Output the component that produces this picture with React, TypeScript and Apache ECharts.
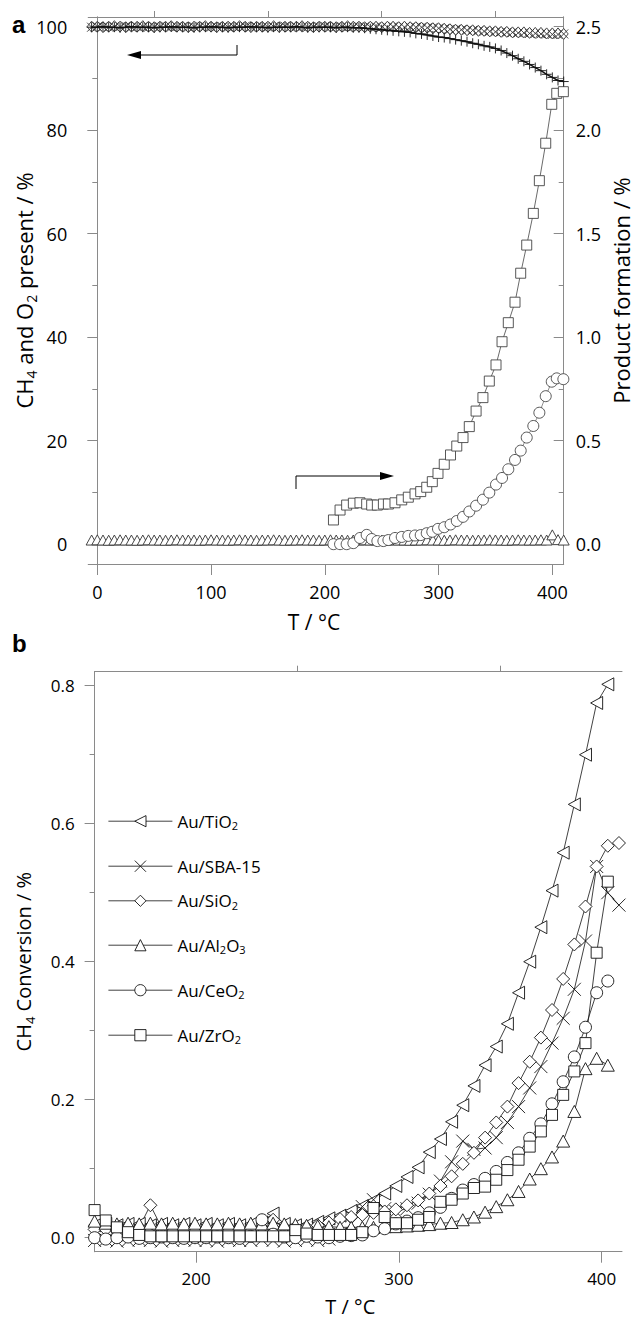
import React, { useEffect, useRef } from "react";
import * as echarts from "echarts";

// ---------- Panel a data ----------
const T_TOP = [-5,0,5,10,15,20,25,30,35,40,45,50,55,60,65,70,75,80,85,90,95,100,105,110,115,120,125,130,135,140,145,150,155,160,165,170,175,180,185,190,195,200,205,210,215,220,225,230,235,240,245,250,255,260,265,270,275,280,285,290,295,300,305,310,315,320,325,330,335,340,345,350,355,360,365,370,375,380,385,390,395,400,405,410];

const CH4_TOP = [
100.0,100.0,99.9,100.0,100.1,100.0,99.9,100.0,100.0,100.1,
100.0,99.9,100.0,100.0,100.1,100.0,100.0,99.9,100.0,100.0,
100.1,100.0,99.9,100.0,100.0,100.0,100.1,100.0,99.9,100.0,
100.0,100.0,100.1,99.9,100.0,100.0,100.0,100.1,100.0,99.9,
100.0,100.0,100.0,99.9,100.0,100.1,100.0,100.0,99.9,100.0,
100.0,99.9,100.0,100.0,99.9,100.0,99.9,
99.9,99.8,99.8,99.7,99.7,99.6,99.5,99.4,99.4,99.3,99.3,99.2,99.2,99.1,99.1,99.0,99.0,98.9,98.9,98.9,98.8,98.8,98.8,98.7,98.7,98.7,98.6];

const X_TOP = [
99.9,100.0,100.0,99.9,100.0,100.0,100.1,99.9,100.0,100.0,
99.9,100.0,100.0,100.1,99.9,100.0,100.0,99.9,100.0,100.1,
100.0,99.9,100.0,100.0,99.9,100.0,100.0,100.1,99.9,100.0,
100.0,99.9,100.0,100.0,100.1,99.9,100.0,100.0,99.9,100.0,
100.0,100.1,99.9,100.0,100.0,99.9,100.0,100.0,100.0,99.9,
100.0,99.9,99.9,100.0,99.9,99.9,99.9,
99.9,99.9,99.8,99.8,99.7,99.6,99.5,99.5,99.4,99.3,99.3,99.2,99.1,99.1,99.0,99.0,98.9,98.9,98.8,98.8,98.7,98.7,98.6,98.6,98.5,98.5,98.6];

const O2_TOP = [
99.9,99.9,100.0,99.9,99.9,99.8,99.9,100.0,99.9,99.9,
99.9,99.8,99.9,99.9,100.0,99.9,99.9,99.9,99.8,99.9,
99.9,100.0,99.9,99.9,99.8,99.9,99.9,99.9,100.0,99.9,
99.9,99.8,99.9,99.9,99.9,99.9,100.0,99.9,99.8,99.9,
99.9,99.9,99.9,99.8,99.9,99.9,99.8,
99.8,99.7,99.6,99.5,99.4,99.3,99.2,99.1,99.0,98.9,98.7,98.6,98.4,98.2,98.0,97.9,97.7,97.5,97.3,97.1,96.8,96.6,96.3,96.1,95.8,95.4,94.9,94.4,93.8,93.3,92.7,92.1,91.5,90.8,90.2,89.6,89.4];

const TRI_TOP = [
0.02,0.021,0.02,0.019,0.02,0.021,0.02,0.02,0.019,0.02,
0.021,0.02,0.02,0.019,0.02,0.021,0.02,0.02,0.02,0.019,
0.02,0.021,0.02,0.02,0.019,0.02,0.021,0.02,0.02,0.019,
0.02,0.02,0.021,0.02,0.019,0.02,0.02,0.021,0.02,0.02,
0.019,0.02,0.021,0.02,0.02,0.019,0.02,0.02,0.021,0.02,
0.02,0.019,0.02,0.021,0.02,0.02,0.019,0.02,0.02,0.021,
0.02,0.02,0.019,0.02,0.021,0.02,0.02,0.019,0.02,0.02,
0.021,0.02,0.02,0.019,0.02,0.021,0.02,0.02,0.02,0.021,
0.02,0.045,0.022,0.02];

const T_PROD = [207.6,213.4,219.2,225.1,230.9,236.8,241.2,246.2,251.5,255.9,261.7,267.6,273.4,279.3,284.3,289.6,294.5,299.5,305,310.5,316,321.5,327,333,339,344.6,350.5,355.8,361.3,367.2,372.2,377.5,383.3,388.6,394.2,399.5,403.9,409.7];
const SQ_PROD = [0.117,0.165,0.189,0.198,0.2,0.194,0.189,0.189,0.194,0.194,0.2,0.214,0.227,0.243,0.254,0.275,0.302,0.342,0.386,0.431,0.474,0.515,0.568,0.643,0.708,0.788,0.866,0.978,1.07,1.169,1.309,1.445,1.598,1.756,1.937,2.125,2.178,2.186];
const CI_PROD = [0.0,0.0,0.0,0.005,0.03,0.045,0.025,0.015,0.015,0.02,0.03,0.035,0.04,0.042,0.044,0.053,0.06,0.074,0.082,0.095,0.112,0.132,0.158,0.186,0.215,0.249,0.288,0.32,0.362,0.407,0.452,0.515,0.571,0.635,0.715,0.785,0.801,0.797];

const X_LABELS_TOP = [0, 100, 200, 300, 400];
const X_MINOR_TOP = [50, 150, 250, 350];
const YL_LABELS_TOP = [0, 20, 40, 60, 80, 100];
const YL_MINOR_TOP = [10, 30, 50, 70, 90];
const YR_LABELS_TOP = [0, 0.5, 1, 1.5, 2, 2.5];
const YR_MINOR_TOP = [0.25, 0.75, 1.25, 1.75, 2.25];

// ---------- Panel b data ----------
const T_B = [150,155.5,161,166.5,172,177.5,183,188.5,194,199.5,205,210.5,216,221.5,227,232.5,238,243.5,249,254.5,260,265.5,271,276.5,282,287.5,293,298.5,304,309.5,315,320.5,326,331.5,337,342.5,348,353.5,359,364.5,370,375.5,381,386.5,392,397.5,403,408.5];

const TIO2 = [0.018,0.02,0.018,0.02,0.02,0.018,0.02,0.018,0.02,0.018,0.02,0.018,0.02,0.018,0.02,0.022,0.035,0.02,0.018,0.019,0.023,0.028,0.032,0.039,0.046,0.054,0.064,0.075,0.088,0.102,0.124,0.143,0.168,0.192,0.22,0.25,0.277,0.31,0.355,0.4,0.45,0.503,0.558,0.628,0.7,0.775,0.802,null];
const SBA15 = [-0.004,-0.003,-0.005,-0.004,-0.003,-0.004,-0.005,-0.004,-0.003,-0.004,-0.004,-0.005,-0.003,-0.004,-0.004,-0.003,-0.004,-0.005,-0.004,-0.003,-0.004,-0.002,0.005,0.02,0.045,0.055,0.042,0.038,0.042,0.05,0.063,0.082,0.11,0.14,0.128,0.13,0.145,0.167,0.19,0.217,0.248,0.282,0.318,0.36,0.43,0.538,0.5,0.482];
const SIO2 = [0.012,0.012,0.01,0.012,0.015,0.047,0.015,0.012,0.012,0.01,0.012,0.012,0.01,0.012,0.012,0.015,0.026,0.015,0.013,0.015,0.018,0.022,0.027,0.03,0.033,0.036,0.038,0.041,0.047,0.054,0.064,0.075,0.089,0.107,0.123,0.145,0.167,0.19,0.224,0.255,0.29,0.33,0.375,0.425,0.48,0.538,0.568,0.572];
const AL2O3 = [0.024,0.021,0.02,0.021,0.02,0.021,0.02,0.021,0.02,0.021,0.02,0.02,0.021,0.02,0.021,0.02,0.021,0.02,0.019,0.018,0.017,0.016,0.015,0.015,0.015,0.015,0.016,0.016,0.017,0.018,0.019,0.021,0.022,0.026,0.03,0.037,0.045,0.055,0.067,0.085,0.1,0.117,0.14,0.183,0.245,0.26,0.25,null];
const CEO2 = [0.0,-0.002,0.0,0.001,-0.001,0.0,0.001,0.0,-0.001,0.0,0.0,0.001,0.0,-0.001,0.002,0.026,0.005,0.001,0.0,0.002,0.001,0.0,0.002,0.003,0.004,0.01,0.013,0.02,0.024,0.029,0.036,0.044,0.057,0.069,0.077,0.086,0.096,0.109,0.123,0.144,0.165,0.194,0.226,0.262,0.305,0.355,0.372,null];
const ZRO2 = [0.04,0.025,0.015,0.008,0.004,0.002,0.002,0.002,0.002,0.002,0.002,0.002,0.002,0.002,0.002,0.002,0.002,0.002,0.011,0.006,0.004,0.004,0.004,0.004,0.008,0.043,0.03,0.021,0.021,0.026,0.03,0.052,0.055,0.064,0.072,0.074,0.084,0.098,0.113,0.132,0.154,0.178,0.207,0.241,0.282,0.413,0.516,null];

const SERIES_B = ["Au/TiO2", "Au/SBA-15", "Au/SiO2", "Au/Al2O3", "Au/CeO2", "Au/ZrO2"];
const LEGEND_RICH: Record<string, string> = {
  "Au/TiO2": "{n|Au/TiO}{s|2}",
  "Au/SBA-15": "{n|Au/SBA-15}",
  "Au/SiO2": "{n|Au/SiO}{s|2}",
  "Au/Al2O3": "{n|Au/Al}{s|2}{n|O}{s|3}",
  "Au/CeO2": "{n|Au/CeO}{s|2}",
  "Au/ZrO2": "{n|Au/ZrO}{s|2}",
};
const LEGEND_Y = [822.7, 867.7, 902.3, 946.7, 991.7, 1036.7];

const X_LABELS_B = [200, 300, 400];
const X_MINOR_B = [250, 350];
const Y_LABELS_B = [0, 0.2, 0.4, 0.6, 0.8];
const Y_MINOR_B = [0.1, 0.3, 0.5, 0.7];

// ---------- styling ----------
const FONT = "Open Sans";
const AX = "#8a8a8a";
const CROSS = "path://M0,0L10,10M10,0L0,10";
const PLUS = "path://M5,0L5,10M0,5L10,5";
const LTRI = "path://M0,5L10,0L10,10Z";

const pairs = (xs: number[], ys: (number | null)[]) =>
  xs.map((x, i) => [x, ys[i]]).filter((p) => p[1] !== null && p[1] !== undefined);

const mkRich = (fs: number, sfs: number, lh: number, slh: number) => ({
  t: { fontSize: fs, fontFamily: FONT, color: "#000", lineHeight: lh },
  s: { fontSize: sfs, fontFamily: FONT, color: "#000", lineHeight: slh, verticalAlign: "bottom" },
});

function mainAxis(extra: any) {
  return {
    type: "value",
    splitLine: { show: false },
    nameMoveOverlap: false,
    axisLine: { show: true, lineStyle: { color: AX, width: 1 } },
    axisTick: { show: true, length: 10, lineStyle: { color: AX, width: 1 } },
    axisLabel: { color: "#000", fontSize: 17, fontFamily: FONT },
    ...extra,
  };
}

function minorAxis(extra: any) {
  return {
    type: "value",
    splitLine: { show: false },
    axisLine: { show: true, lineStyle: { color: AX, width: 1 } },
    axisLabel: { show: false },
    ...extra,
  };
}

function lineSeries(name: string, xi: number, yi: number, data: any[], symbol: string, size: any, lw: number, color = "#222", z = 2) {
  return {
    name,
    type: "line",
    xAxisIndex: xi,
    yAxisIndex: yi,
    data,
    symbol,
    symbolSize: size,
    showSymbol: true,
    showAllSymbol: true,
    z,
    lineStyle: { color, width: lw },
    itemStyle: { color: "#fff", borderColor: color, borderWidth: 0.9 },
    emphasis: { disabled: true },
  };
}

export default function App() {
  const ref = useRef<HTMLDivElement>(null);
  useEffect(() => {
    if (!ref.current) return;
    const chart = echarts.init(ref.current, undefined, { renderer: "svg" });

    const legends = SERIES_B.map((n, i) => ({
      data: [n],
      orient: "vertical",
      left: 108,
      top: LEGEND_Y[i] - 10,
      padding: 0,
      itemWidth: 64,
      itemHeight: 14,
      itemGap: 0,
      selectedMode: false,
      lineStyle: { width: 0.8, color: "#111" },
      itemStyle: { color: "#fff", borderColor: "#111", borderWidth: 0.9 },
      formatter: (name: string) => LEGEND_RICH[name] || name,
      textStyle: {
        fontFamily: FONT,
        fontSize: 17,
        color: "#000",
        rich: {
          n: { fontSize: 17, fontFamily: FONT, color: "#000", lineHeight: 20 },
          s: { fontSize: 11, fontFamily: FONT, color: "#000", lineHeight: 12, verticalAlign: "bottom" },
        },
      },
    }));

    const option: any = {
      animation: false,
      backgroundColor: "#fff",
      grid: [
        { left: 88.2, top: 17, width: 475.5, height: 547, outerBoundsMode: "none", containLabel: false },
        { left: 94.6, top: 671.7, width: 527.4, height: 580, outerBoundsMode: "none", containLabel: false },
      ],
      legend: legends,
      xAxis: [
        mainAxis({
          gridIndex: 0, min: -8, max: 410,
          axisLine: { onZero: false, lineStyle: { color: AX, width: 1 } },
          axisTick: { customValues: X_LABELS_TOP, length: 11, lineStyle: { color: AX } },
          axisLabel: { customValues: X_LABELS_TOP, margin: 19, color: "#000", fontSize: 18, fontFamily: FONT },
          name: "T / °C", nameLocation: "middle", nameGap: 47,
          nameTextStyle: { fontSize: 21, fontFamily: FONT, color: "#000", padding: [0, 24, 0, 0] },
        }),
        minorAxis({
          gridIndex: 0, min: -8, max: 410,
          axisLine: { onZero: false, lineStyle: { color: AX, width: 1 } },
          axisTick: { customValues: X_MINOR_TOP, length: 6, lineStyle: { color: AX } },
        }),
        mainAxis({
          gridIndex: 1, min: 150, max: 410,
          axisLine: { onZero: false, lineStyle: { color: AX, width: 1 } },
          axisTick: { customValues: X_LABELS_B, length: 11, lineStyle: { color: AX } },
          axisLabel: { customValues: X_LABELS_B, margin: 18, color: "#000", fontSize: 17, fontFamily: FONT },
          name: "T / °C", nameLocation: "middle", nameGap: 45,
          nameTextStyle: { fontSize: 20, fontFamily: FONT, color: "#000", padding: [0, 16, 0, 0] },
        }),
        minorAxis({
          gridIndex: 1, min: 150, max: 410,
          axisLine: { onZero: false, lineStyle: { color: AX, width: 1 } },
          axisTick: { customValues: X_MINOR_B, length: 6, lineStyle: { color: AX } },
        }),
      ],
      yAxis: [
        mainAxis({
          gridIndex: 0, position: "left", min: -3.83, max: 101.87,
          axisLine: { onZero: true, onZeroAxisIndex: 0, lineStyle: { color: AX, width: 1 } },
          axisTick: { customValues: YL_LABELS_TOP, length: 10, lineStyle: { color: AX } },
          axisLabel: { customValues: YL_LABELS_TOP, margin: 21, color: "#000", fontSize: 18, fontFamily: FONT },
          name: "{t|CH}{s|4}{t| and O}{s|2}{t| present / %}",
          nameLocation: "middle", nameRotate: 90, nameGap: 50,
          nameTextStyle: { fontSize: 22, fontFamily: FONT, color: "#000", rich: mkRich(22, 14, 28, 17) },
        }),
        minorAxis({
          gridIndex: 0, position: "left", min: -3.83, max: 101.87,
          axisLine: { onZero: true, onZeroAxisIndex: 0, lineStyle: { color: AX, width: 1 } },
          axisTick: { customValues: YL_MINOR_TOP, length: 5, lineStyle: { color: AX } },
        }),
        mainAxis({
          gridIndex: 0, position: "right", min: -0.09575, max: 2.54675,
          axisLine: { onZero: false, lineStyle: { color: AX, width: 1 } },
          axisTick: { customValues: YR_LABELS_TOP, inside: true, length: 10, lineStyle: { color: AX } },
          axisLabel: { customValues: YR_LABELS_TOP, margin: 12, color: "#000", fontSize: 18, fontFamily: FONT, formatter: (v: number) => v.toFixed(1) },
          name: "Product formation / %",
          nameLocation: "middle", nameRotate: 90, nameGap: 46,
          nameTextStyle: { fontSize: 22, fontFamily: FONT, color: "#000" },
        }),
        minorAxis({
          gridIndex: 0, position: "right", min: -0.09575, max: 2.54675,
          axisLine: { onZero: false, lineStyle: { color: AX, width: 1 } },
          axisTick: { customValues: YR_MINOR_TOP, inside: true, length: 5, lineStyle: { color: AX } },
        }),
        mainAxis({
          gridIndex: 1, position: "left", min: -0.0203, max: 0.8203,
          axisLine: { onZero: false, lineStyle: { color: AX, width: 1 } },
          axisTick: { customValues: Y_LABELS_B, length: 10, lineStyle: { color: AX } },
          axisLabel: { customValues: Y_LABELS_B, margin: 20, color: "#000", fontSize: 17, fontFamily: FONT, formatter: (v: number) => v.toFixed(1) },
          name: "{t|CH}{s|4}{t| Conversion / %}",
          nameLocation: "middle", nameRotate: 90, nameGap: 58,
          nameTextStyle: { fontSize: 20, fontFamily: FONT, color: "#000", rich: mkRich(20, 13, 26, 16) },
        }),
        minorAxis({
          gridIndex: 1, position: "left", min: -0.0203, max: 0.8203,
          axisLine: { onZero: false, lineStyle: { color: AX, width: 1 } },
          axisTick: { customValues: Y_MINOR_B, length: 5, lineStyle: { color: AX } },
        }),
      ],
      series: [
        // panel a
        lineSeries("tri", 0, 2, pairs(T_TOP, TRI_TOP), "triangle", [11, 10], 0.6, "#333", 2),
        lineSeries("sq", 0, 2, pairs(T_PROD, SQ_PROD), "rect", 10, 0.8, "#444", 3),
        lineSeries("ci", 0, 2, pairs(T_PROD, CI_PROD), "circle", 11, 0.6, "#444", 3),
        lineSeries("ch4", 0, 0, pairs(T_TOP, CH4_TOP), "diamond", [9, 11], 1, "#333", 4),
        lineSeries("x", 0, 0, pairs(T_TOP, X_TOP), CROSS, 9, 1, "#333", 4),
        lineSeries("o2", 0, 0, pairs(T_TOP, O2_TOP), PLUS, 10, 1.5, "#111", 5),
        // panel b
        lineSeries("Au/TiO2", 2, 4, pairs(T_B, TIO2), LTRI, [12, 13], 0.8, "#111", 3),
        lineSeries("Au/SBA-15", 2, 4, pairs(T_B, SBA15), CROSS, 13, 0.8, "#111", 3),
        lineSeries("Au/SiO2", 2, 4, pairs(T_B, SIO2), "diamond", 13, 0.8, "#111", 3),
        lineSeries("Au/Al2O3", 2, 4, pairs(T_B, AL2O3), "triangle", [13, 12], 0.8, "#111", 3),
        lineSeries("Au/CeO2", 2, 4, pairs(T_B, CEO2), "circle", 12, 0.8, "#111", 3),
        lineSeries("Au/ZrO2", 2, 4, pairs(T_B, ZRO2), "rect", 11, 0.8, "#111", 3),
      ],
      graphic: [
        { type: "text", x: 12, y: 24, style: { text: "a", font: 'bold 24px "Liberation Sans"', fill: "#000", align: "left", verticalAlign: "middle" } },
        { type: "text", x: 12, y: 643, style: { text: "b", font: 'bold 24px "Liberation Sans"', fill: "#000", align: "left", verticalAlign: "middle" } },
        { type: "polyline", shape: { points: [[237, 45], [237, 55], [140, 55]] }, style: { stroke: "#000", lineWidth: 1, fill: null } },
        { type: "polygon", shape: { points: [[127, 55], [141, 51], [141, 59]] }, style: { fill: "#000" } },
        { type: "polyline", shape: { points: [[296, 489], [296, 476], [381, 476]] }, style: { stroke: "#000", lineWidth: 1, fill: null } },
        { type: "polygon", shape: { points: [[394, 476], [380, 472], [380, 480]] }, style: { fill: "#000" } },
      ],
    };
    chart.setOption(option);
    return () => chart.dispose();
  }, []);
  return <div ref={ref} style={{ position: "absolute", left: 0, top: 0, width: 636, height: 1320 }} />;
}
